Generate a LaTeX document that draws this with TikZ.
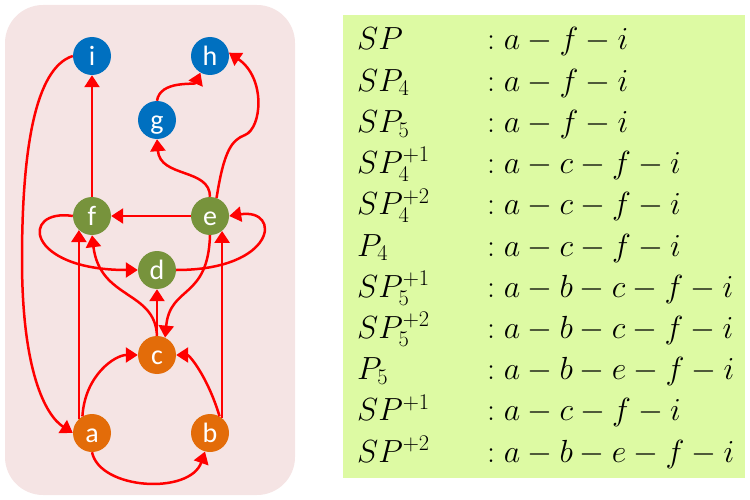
\RequirePackage{fix-cm}
\documentclass[tikz,border=0pt]{standalone}
\usepackage{fontspec}
\newfontfamily\nodefont{Carlito}
\usetikzlibrary{arrows.meta}
\definecolor{bgpink}{RGB}{245,228,228}
\definecolor{bggreen}{RGB}{221,250,163}
\definecolor{vblue}{RGB}{0,112,192}
\definecolor{vgreen}{RGB}{119,147,60}
\definecolor{vorange}{RGB}{227,108,9}
\begin{document}
\begin{tikzpicture}[x=1pt,y=-1pt,
  vtx/.style={circle, minimum size=38pt, inner sep=0pt, text=white,
    text height=20pt, text depth=1pt,
    font=\nodefont\fontsize{28}{28}\selectfont},
  vb/.style={vtx, fill=vblue},
  vg/.style={vtx, fill=vgreen},
  vo/.style={vtx, fill=vorange},
  conn/.style={draw=red, line width=2.5pt, -{Triangle[length=12pt,width=15pt]}},
  rowtxt/.style={anchor=base west, inner sep=0pt, font=\fontsize{32}{32}\selectfont}]
\useasboundingbox (0,0) rectangle (750,500);
\fill[bgpink, rounded corners=38pt] (5,5) rectangle (295,495);
\fill[bggreen] (343,15) rectangle (745,478);

\node[vb] (i) at (92,56) {i};
\node[vb] (h) at (210,56) {h};
\node[vb] (g) at (157,120) {g};
\node[vg] (f) at (92,216) {f};
\node[vg] (e) at (210,216) {e};
\node[vg] (d) at (157,270) {d};
\node[vo] (c) at (157,355) {c};
\node[vo] (a) at (92,433) {a};
\node[vo] (b) at (210,433) {b};

\draw[conn] (f.north) -- (i.south);
\draw[conn] (e.west) -- (f.east);
\draw[conn] (i.west) .. controls (35,68) and (22,150) .. (22,260) .. controls (22,370) and (45,415) .. (a.west);
\draw[conn] (e.north) .. controls (210,168) and (160,178) .. (g.south);
\draw[conn] (g.north) .. controls (160,80) and (195,85) .. (h.240);
\draw[conn] (e.70) .. controls (224,150) and (232,140) .. (245,135) .. controls (262,128) and (266,78) .. (h.10);
\draw[conn] (a.133) -- (f.227);
\draw[conn] (b.51) -- (e.309);
\draw[conn] (e.south) .. controls (208,300) and (170,285) .. (c.65);
\draw[conn] (c.north) .. controls (155,290) and (100,300) .. (f.south);
\draw[conn] (c.north) -- (d.south);
\draw[conn] (f.west) .. controls (20,208) and (25,270) .. (d.west);
\draw[conn] (d.east) .. controls (277,270) and (282,208) .. (e.east);
\draw[conn] (a.120) .. controls (85,375) and (115,355) .. (c.west);
\draw[conn] (b.60) .. controls (207,375) and (189,355) .. (c.east);
\draw[conn] (a.south) .. controls (100,490) and (190,495) .. (b.255);

\node[rowtxt] (l1) at (357,50) {$SP$};
\node[rowtxt] (p1) at (478,50) {${}:a-f-i$};
\node[rowtxt] (l2) at (357,91.2) {$SP_4$};
\node[rowtxt] (p2) at (478,91.2) {${}:a-f-i$};
\node[rowtxt] (l3) at (357,132.4) {$SP_5$};
\node[rowtxt] (p3) at (478,132.4) {${}:a-f-i$};
\node[rowtxt] (l4) at (357,173.6) {$SP_4^{+1}$};
\node[rowtxt] (p4) at (478,173.6) {${}:a-c-f-i$};
\node[rowtxt] (l5) at (357,214.8) {$SP_4^{+2}$};
\node[rowtxt] (p5) at (478,214.8) {${}:a-c-f-i$};
\node[rowtxt] (l6) at (357,256) {$P_4$};
\node[rowtxt] (p6) at (478,256) {${}:a-c-f-i$};
\node[rowtxt] (l7) at (357,297.2) {$SP_5^{+1}$};
\node[rowtxt] (p7) at (478,297.2) {${}:a-b-c-f-i$};
\node[rowtxt] (l8) at (357,338.4) {$SP_5^{+2}$};
\node[rowtxt] (p8) at (478,338.4) {${}:a-b-c-f-i$};
\node[rowtxt] (l9) at (357,379.6) {$P_5$};
\node[rowtxt] (p9) at (478,379.6) {${}:a-b-e-f-i$};
\node[rowtxt] (l10) at (357,420.8) {$SP^{+1}$};
\node[rowtxt] (p10) at (478,420.8) {${}:a-c-f-i$};
\node[rowtxt] (l11) at (357,462) {$SP^{+2}$};
\node[rowtxt] (p11) at (478,462) {${}:a-b-e-f-i$};
\end{tikzpicture}
\end{document}
